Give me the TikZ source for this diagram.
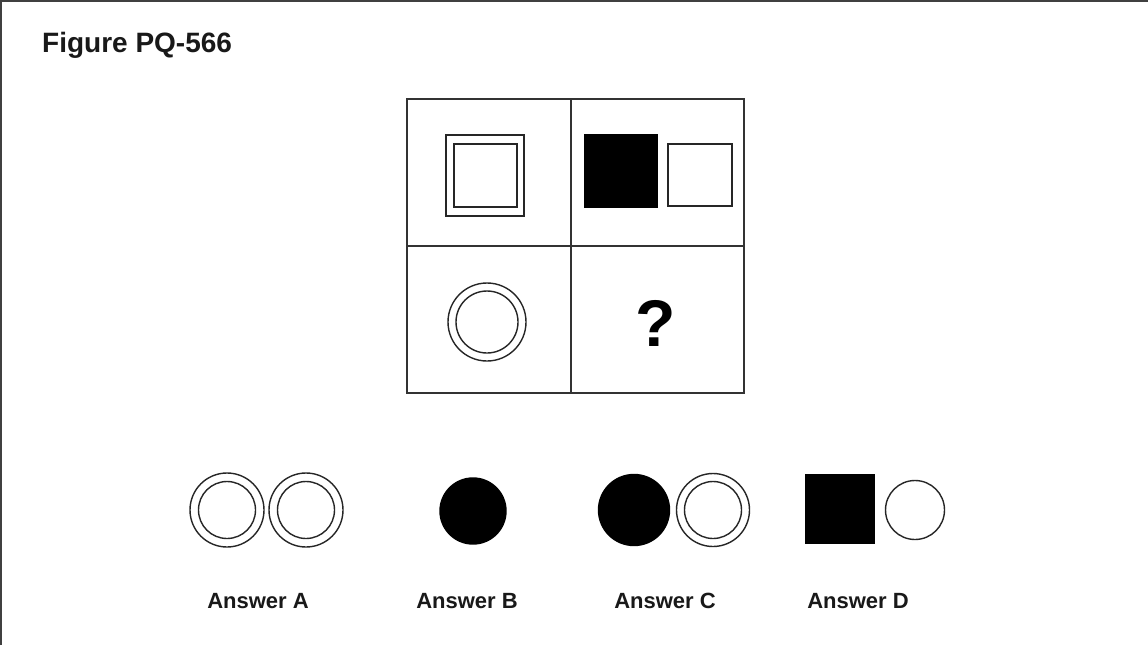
\documentclass[tikz,border=0pt]{standalone}
\usepackage{fontspec}
\setmainfont{Liberation Sans}
\begin{document}
\begin{tikzpicture}[x=1pt,y=-1pt,
  gridline/.style={draw=black!80,line width=1.8pt},
  shp/.style={draw=black!85,line width=1.4pt,inner sep=0pt,outer sep=0pt},
  sq/.style={shp,rectangle,minimum width=#1,minimum height=#1},
  rc/.style={shp,circle,minimum size=#1},
  blk/.style={fill=black,draw=black},
  lab/.style={font=\bfseries\fontsize{22}{26}\selectfont,text=black!90,inner sep=0pt},
]
\useasboundingbox (0,0) rectangle (1148,645);
\fill[white] (0,0) rectangle (1148,645);
\draw[black!75,line width=2.5pt] (1,645) -- (1,1) -- (1148,1);
% title
\node[font=\bfseries\fontsize{28}{32}\selectfont,anchor=base west,inner sep=0pt,text=black!90] (title) at (42,52) {Figure PQ-566};
% grid
\node[gridline,rectangle,minimum width=164,minimum height=147,inner sep=0pt] (c11) at (489,172.5) {};
\node[gridline,rectangle,minimum width=173,minimum height=147,inner sep=0pt] (c12) at (657.5,172.5) {};
\node[gridline,rectangle,minimum width=164,minimum height=147,inner sep=0pt] (c21) at (489,319.5) {};
\node[gridline,rectangle,minimum width=173,minimum height=147,inner sep=0pt] (c22) at (657.5,319.5) {};
% cell 1: double square
\node[shp,rectangle,minimum width=78,minimum height=81] (s1o) at (485,175.5) {};
\node[shp,rectangle,minimum width=63,minimum height=63] (s1i) at (485.5,175.5) {};
% cell 2
\node[sq=72,blk] (s2b) at (621,171) {};
\node[shp,rectangle,minimum width=64,minimum height=62] (s2w) at (700,175) {};
% cell 3
\node[rc=78] (c3o) at (487,322) {};
\node[rc=62] (c3i) at (487,322) {};
% cell 4
\node[font=\bfseries\fontsize{66}{70}\selectfont,inner sep=0pt] (q) at (656,323) {?};
% answers
\node[rc=74] (a1o) at (227,510) {};
\node[rc=57] (a1i) at (227,510) {};
\node[rc=74] (a2o) at (306,510) {};
\node[rc=57] (a2i) at (306,510) {};
\node[rc=66,blk] (b1) at (473,511) {};
\node[rc=71,blk] (cb) at (634,510) {};
\node[rc=73] (c2o) at (713,510) {};
\node[rc=57] (c2i) at (713,510) {};
\node[sq=68,blk] (d1) at (840,509) {};
\node[rc=59] (d2) at (915,510) {};
% labels
\node[lab,anchor=base] (la) at (258,608) {Answer A};
\node[lab,anchor=base] (lb) at (467,608) {Answer B};
\node[lab,anchor=base] (lc) at (665,608) {Answer C};
\node[lab,anchor=base] (ld) at (858,608) {Answer D};
\end{tikzpicture}
\end{document}
